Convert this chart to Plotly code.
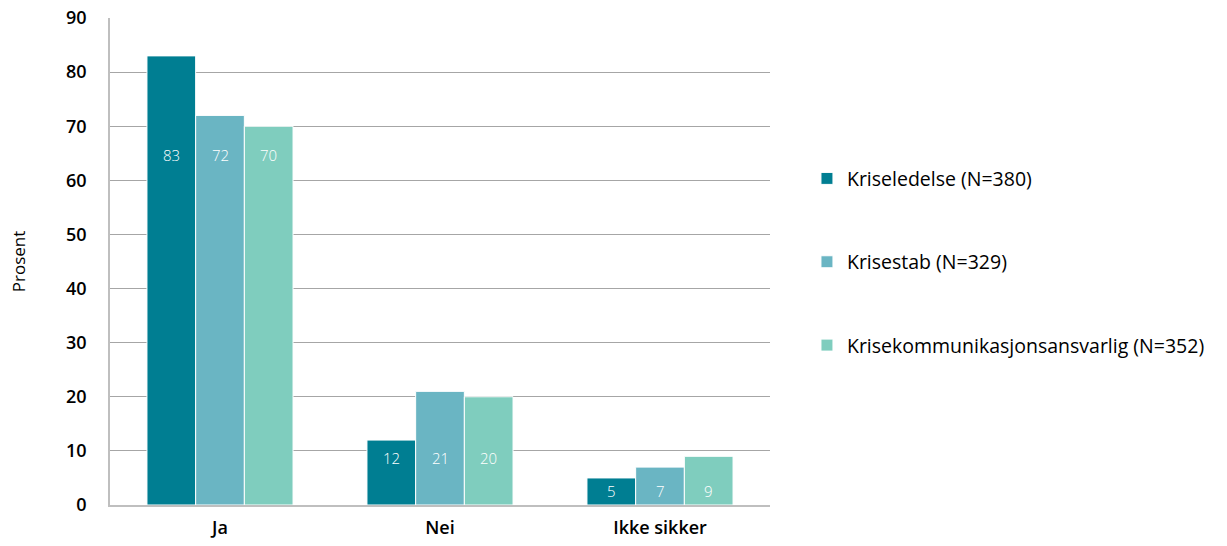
import plotly.graph_objects as go

categories = ["Ja", "Nei", "Ikke sikker"]
series_names = ["Kriseledelse (N=380)", "Krisestab (N=329)", "Krisekommunikasjonsansvarlig (N=352)"]
kriseledelse = [83, 12, 5]
krisestab = [72, 21, 7]
krisekomm = [70, 20, 9]
y_ticks = [0, 10, 20, 30, 40, 50, 60, 70, 80, 90]

colors = ["#007E92", "#6AB5C3", "#7FCDBE"]
series = [kriseledelse, krisestab, krisekomm]
FONT = "Open Sans"

fig = go.Figure()
for i, (name, vals) in enumerate(zip(series_names, series)):
    fig.add_trace(go.Bar(
        x=categories, y=vals, name=name,
        marker=dict(color=colors[i], line=dict(color="white", width=1)),
        legendgroup=f"g{i}", offsetgroup=str(i),
    ))

# data labels: placed in a common row per category, below the shortest bar
label_shift = [-29, -18, -13]
offsets = [-1, 0, 1]
for ci, cat in enumerate(categories):
    group_vals = [s[ci] for s in series]
    base = min(group_vals)
    for si, s in enumerate(series):
        fig.add_annotation(
            x=ci + offsets[si] * 0.2213, y=base, xref="x", yref="y",
            text=str(s[ci]), showarrow=False, yshift=label_shift[ci],
            font=dict(family=FONT, size=15, color="white", weight=300),
        )

fig.update_layout(
    width=1227, height=546,
    margin=dict(l=110, r=457, t=18, b=41, autoexpand=False),
    plot_bgcolor="white", paper_bgcolor="white",
    barmode="group", bargap=0.336, bargroupgap=0,
    font=dict(family=FONT, color="black"),
    showlegend=True,
    legend=dict(
        x=1.056, y=0.71, xanchor="left", yanchor="top",
        font=dict(family=FONT, size=19.5, color="black", weight=500),
        traceorder="grouped", tracegroupgap=55,
        itemwidth=30,
    ),
)
fig.update_xaxes(
    type="category", range=[-0.5, 2.5], automargin=False,
    showline=True, linecolor="#BFBFBF", linewidth=1.5,
    showgrid=False, ticks="",
    tickfont=dict(family=FONT, size=18, color="black", weight=600),
    ticklabelstandoff=6,
)
fig.update_yaxes(
    range=[0, 90], tickvals=y_ticks, automargin=False,
    showline=True, linecolor="#BFBFBF", linewidth=1.5,
    showgrid=True, gridcolor="#A6A6A6", gridwidth=1,
    zeroline=False, ticks="",
    tickfont=dict(family=FONT, size=18, color="black", weight=600),
    ticklabelstandoff=18,
    title=dict(text="Prosent", font=dict(family=FONT, size=17, color="black", weight=500), standoff=36),
)

fig.write_html("out.html", post_script="document.body.style.margin='0';",
               config={"displayModeBar": False})
